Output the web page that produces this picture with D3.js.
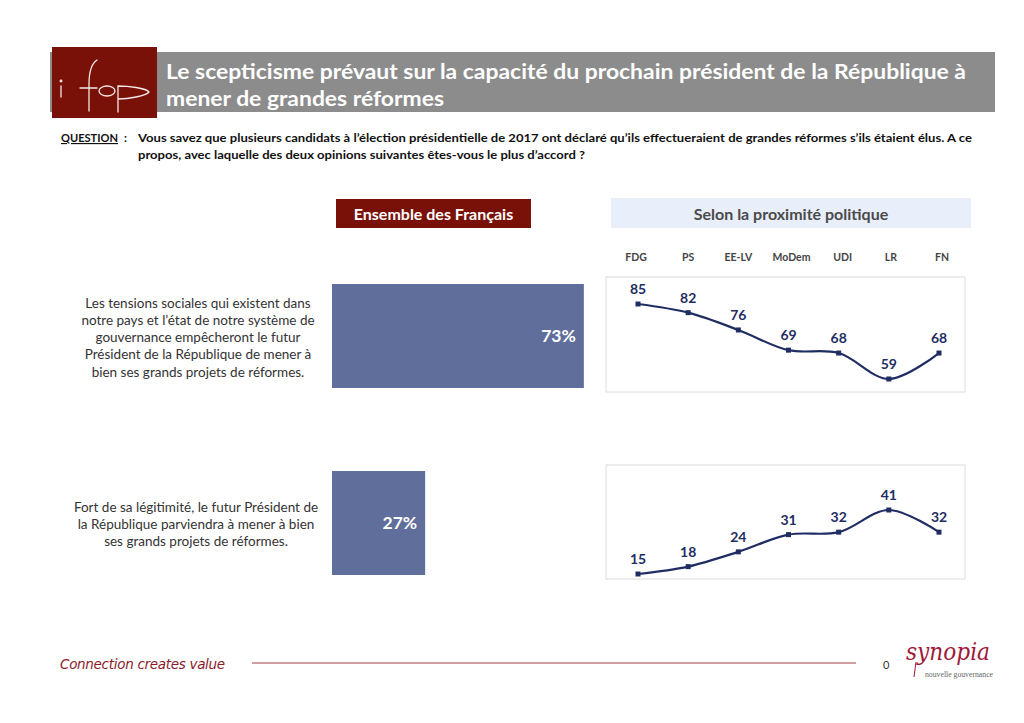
<!DOCTYPE html>
<html><head><meta charset="utf-8">
<script src="https://cdn.jsdelivr.net/npm/d3@7"></script>
<style>
html,body{margin:0;padding:0;background:#fff;}
svg{display:block;font-family:Lato,"Open Sans",sans-serif;}
</style></head>
<body>
<svg id="c" width="1024" height="723"></svg>
<script>
const titleLines = ["Le scepticisme prévaut sur la capacité du prochain président de la République à", "mener de grandes réformes"];
const questionLabel = "QUESTION";
const questionLines = ["Vous savez que plusieurs candidats à l’élection présidentielle de 2017 ont déclaré qu’ils effectueraient de grandes réformes s’ils étaient élus. A ce", "propos, avec laquelle des deux opinions suivantes êtes-vous le plus d’accord ?"];
const panelTitles = ["Ensemble des Français", "Selon la proximité politique"];
const opinions = [
  ["Les tensions sociales qui existent dans", "notre pays et l’état de notre système de", "gouvernance empêcheront le futur", "Président de la République de mener à", "bien ses grands projets de réformes."],
  ["Fort de sa légitimité, le futur Président de", "la République parviendra à mener à bien", "ses grands projets de réformes."]
];
const ensembleValues = [73, 27];
const parties = ["FDG", "PS", "EE-LV", "MoDem", "UDI", "LR", "FN"];
const seriesImpossible = [85, 82, 76, 69, 68, 59, 68];
const seriesPossible = [15, 18, 24, 31, 32, 41, 32];
const footerText = "Connection creates value";
const pageNumber = "0";

const svg = d3.select("#c");
const RED = "#7a1109";
const NAVY = "#1f2d63";
const BAR = "#5f6e9b";

// Header
svg.append("rect").attr("x",50).attr("y",52).attr("width",945).attr("height",60).attr("fill","#8c8c8c");
svg.append("rect").attr("x",52).attr("y",47).attr("width",105).attr("height",71).attr("fill",RED);
// ifop logo
const LC = "#f4e9e6";
const lg = svg.append("g").attr("fill","none").attr("stroke",LC).attr("stroke-width",1.3).attr("stroke-linecap","round");
lg.append("line").attr("x1",61).attr("y1",86).attr("x2",61).attr("y2",97);
lg.append("circle").attr("cx",61).attr("cy",81).attr("r",0.8).attr("fill",LC);
lg.append("path").attr("d","M97,60 C91,64 89,73 89,84 L89,111");
lg.append("line").attr("x1",80).attr("y1",88).attr("x2",97).attr("y2",88);
lg.append("ellipse").attr("cx",107).attr("cy",91).attr("rx",8).attr("ry",5);
lg.append("path").attr("d","M118,112 L118,86 C128,86 146,88 149,92 C146,96 128,99 118,99");

const titleLen = [800, 278];
svg.append("g").selectAll("text").data(titleLines).join("text")
  .attr("x",166).attr("y",(d,i)=>79+i*27)
  .attr("fill","#fff").attr("font-size",21).attr("font-weight",700)
  .attr("textLength",(d,i)=>titleLen[i]).attr("lengthAdjust","spacingAndGlyphs")
  .text(d=>d);

// Question
const q = svg.append("g").attr("font-size",11.5).attr("font-weight",700).attr("fill","#111");
q.append("text").attr("x",61).attr("y",142).attr("text-decoration","underline")
  .attr("textLength",57).attr("lengthAdjust","spacingAndGlyphs").text(questionLabel);
q.append("text").attr("x",124).attr("y",142).text(":");
const qLen = [834, 447];
q.selectAll("text.ql").data(questionLines).join("text").attr("class","ql")
  .attr("x",138).attr("y",(d,i)=>142+i*17)
  .attr("textLength",(d,i)=>qLen[i]).attr("lengthAdjust","spacingAndGlyphs").text(d=>d);

// Panel titles
svg.append("rect").attr("x",336).attr("y",199).attr("width",195).attr("height",29).attr("fill",RED);
svg.append("text").attr("x",433.5).attr("y",219.5).attr("text-anchor","middle").attr("fill","#fff")
  .attr("font-size",16).attr("font-weight",700).text(panelTitles[0]);
svg.append("rect").attr("x",611).attr("y",198).attr("width",360).attr("height",30).attr("fill","#e8eefa");
svg.append("text").attr("x",791).attr("y",219.5).attr("text-anchor","middle").attr("fill","#4a4a4a")
  .attr("font-size",16).attr("font-weight",700).text(panelTitles[1]);

// Opinion texts
const rowTop = [303, 507];
const rowCx = [198, 196];
opinions.forEach((lines,r)=>{
  svg.append("g").selectAll("text").data(lines).join("text")
    .attr("x",rowCx[r]).attr("y",(d,i)=>rowTop[r]+4.5+i*17.3)
    .attr("text-anchor","middle").attr("font-size",13.5).attr("fill","#333")
    .text(d=>d);
});

// Bars
const xBar = d3.scaleLinear().domain([0,100]).range([332,677]);
const barY = [284, 471];
const barH = 104;
ensembleValues.forEach((v,i)=>{
  svg.append("rect").attr("x",xBar(0)).attr("y",barY[i]).attr("width",xBar(v)-xBar(0)).attr("height",barH).attr("fill",BAR);
  svg.append("text").attr("x",xBar(v)-8).attr("y",barY[i]+barH/2+6)
    .attr("text-anchor","end")
    .attr("fill","#fff").attr("font-size",17.5).attr("font-weight",700).text(v+"%");
});

// Line charts
const xP = d3.scalePoint().domain(parties).range([638,939]);
const labelShift = {FDG:-2, MoDem:3, UDI:4, LR:2, FN:3};
svg.append("g").selectAll("text").data(parties).join("text")
  .attr("x",d=>xP(d)+(labelShift[d]||0)).attr("y",261)
  .attr("text-anchor","middle").attr("font-size",10.5).attr("font-weight",700).attr("fill","#444").text(d=>d);

const charts = [
  {data:seriesImpossible, box:[606,277,359,115], range:[379,304]},
  {data:seriesPossible, box:[606,465,359,114], range:[574,510]}
];
charts.forEach(c=>{
  const y = d3.scaleLinear().domain(d3.extent(c.data)).range(c.range);
  svg.append("rect").attr("x",c.box[0]).attr("y",c.box[1]).attr("width",c.box[2]).attr("height",c.box[3])
    .attr("fill","#fff").attr("stroke","#dcdcdc").attr("stroke-width",1);
  const line = d3.line().x((d,i)=>xP(parties[i])).y(d=>y(d)).curve(d3.curveCatmullRom.alpha(0.5));
  svg.append("path").attr("d",line(c.data)).attr("fill","none").attr("stroke",NAVY).attr("stroke-width",2.2);
  svg.append("g").selectAll("rect").data(c.data).join("rect")
    .attr("x",(d,i)=>xP(parties[i])-2.5).attr("y",d=>y(d)-2.5).attr("width",5).attr("height",5).attr("fill",NAVY);
  svg.append("g").selectAll("text").data(c.data).join("text")
    .attr("x",(d,i)=>xP(parties[i])).attr("y",d=>y(d)-10)
    .attr("text-anchor","middle").attr("font-size",14).attr("font-weight",700).attr("fill",NAVY).text(d=>d);
});

// Footer
svg.append("text").attr("x",60).attr("y",669).attr("font-size",13.5).attr("font-style","italic")
  .attr("fill","#8a1b2b").attr("font-family","'DejaVu Sans',sans-serif").attr("letter-spacing",-0.3).text(footerText);
svg.append("line").attr("x1",252).attr("x2",856).attr("y1",663).attr("y2",663).attr("stroke","#a3404a").attr("stroke-width",1);
svg.append("text").attr("x",883).attr("y",669).attr("font-size",11).attr("fill","#333").text(pageNumber);
// synopia logo
svg.append("text").attr("x",906).attr("y",660).attr("font-size",25).attr("font-style","italic")
  .attr("font-family","'DejaVu Serif',serif").attr("fill","#a0193a")
  .attr("textLength",84).attr("lengthAdjust","spacingAndGlyphs").text("synopia");
svg.append("line").attr("x1",916).attr("y1",662).attr("x2",914).attr("y2",677).attr("stroke","#a0193a").attr("stroke-width",1);
svg.append("text").attr("x",925).attr("y",677).attr("font-size",8).attr("font-family","'Liberation Serif',serif")
  .attr("fill","#666").attr("textLength",68).attr("lengthAdjust","spacingAndGlyphs").text("nouvelle gouvernance");
</script>
</body></html>
